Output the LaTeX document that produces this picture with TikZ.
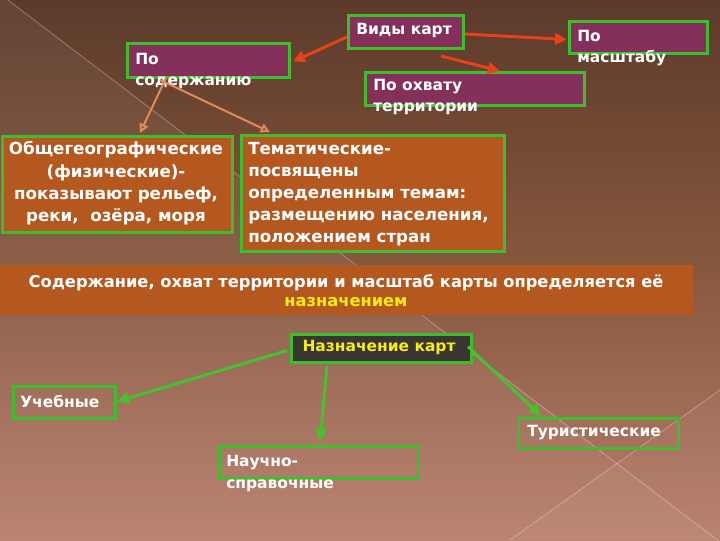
\documentclass[tikz,border=0pt]{standalone}
\usepackage{fontspec}
\setmainfont{DejaVu Sans}
\usetikzlibrary{arrows.meta,calc}
\definecolor{bgtop}{HTML}{5C3A2A}
\definecolor{bgmid}{HTML}{87583F}
\definecolor{bgbot}{HTML}{B87E6C}
\definecolor{mag}{HTML}{84305A}
\definecolor{gbord}{HTML}{3DBE2E}
\definecolor{orng}{HTML}{B5581F}
\definecolor{redarr}{HTML}{E8421B}
\definecolor{lorarr}{HTML}{E28A5A}
\definecolor{garr}{HTML}{45C22F}
\definecolor{dark}{HTML}{3A3432}
\definecolor{yel}{HTML}{F6EE10}
\tikzset{
  txt/.style={font=\bfseries\fontsize{11.6}{16.5}\selectfont, text=white},
  ortxt/.style={font=\bfseries\fontsize{12.5}{16.6}\selectfont, text=white},
  toptxt/.style={font=\bfseries\fontsize{11.6}{15.8}\selectfont, text=white},
  boxbase/.style={draw=gbord, line width=2.25pt, anchor=north west, inner sep=0pt},
  magbox/.style={boxbase, fill=mag},
  orbox/.style={boxbase, fill=orng},
  brbox/.style={boxbase, fill=none},
  lbl/.style={txt, anchor=north west, align=left, inner sep=0pt},
  toplbl/.style={toptxt, anchor=north west, align=left, inner sep=0pt},
  redline/.style={draw=redarr, line width=2.2pt, -{Triangle[length=9pt,width=8.5pt]}},
  orline/.style={draw=lorarr, line width=1.5pt, -{Triangle[length=7pt,width=7pt,open]}},
  grline/.style={draw=garr, line width=2.2pt, -{Triangle[length=9pt,width=8.5pt]}},
}
\begin{document}
\begin{tikzpicture}[x=0.75pt,y=-0.75pt]
\shade[top color=bgtop, bottom color=bgbot, middle color=bgmid] (0,0) rectangle (720,540);
\useasboundingbox (0,0) rectangle (720,540);
% decorative overlay and lines
\fill[white, opacity=0.05] (0,-6) -- (720,542) -- (0,542) -- cycle;
\fill[white, opacity=0.04] (720,390) -- (510,540) -- (720,540) -- cycle;
\draw[white, opacity=0.3, line width=0.6pt] (0,-6) -- (720,542);
\draw[white, opacity=0.3, line width=0.6pt] (720,390) -- (510,540);

% top group
\node[magbox, minimum width=86.25pt, minimum height=24.75pt] (vidy) at (347,14) {};
\node[toplbl] (vidyt) at (356,22.5) {Виды карт};
\node[magbox, minimum width=103.5pt, minimum height=24pt] (masht) at (568,20) {};
\node[toplbl] (mashtt) at (577,30) {По\\масштабу};
\node[magbox, minimum width=121.5pt, minimum height=25.5pt] (sod) at (126,42) {};
\node[toplbl] (sodt) at (135,52.5) {По\\содержанию};
\node[magbox, minimum width=164.25pt, minimum height=24.75pt] (ohv) at (364,71) {};
\node[toplbl] (ohvt) at (373,79) {По охвату\\территории};

\draw[redline] ($(vidy.west)+(0,5)$) -- ($(sod.east)+(2,1)$);
\draw[redline] ($(vidy.east)+(0,2)$) -- ($(masht.west)+(-1,2)$);
\draw[redline] ($(vidy.south east)+(-24,6)$) -- ($(ohv.north west)+(136,0)$);

% second level
\node[orbox, minimum width=172.5pt, minimum height=72pt] (obsh) at (1,135) {};
\node[ortxt, align=center, anchor=north, inner sep=0pt] (obsht) at (116,141.5) {Общегеографические\\(физические)-\\показывают рельеф,\\реки,\ \ озёра, моря};
\node[orbox, minimum width=197.25pt, minimum height=87pt] (tem) at (240,134) {};
\node[ortxt, anchor=north west, align=left, inner sep=0pt] (temt) at (248,142) {Тематические-\\посвящены\\определенным темам:\\размещению населения,\\положением стран};

\draw[orline] ($(sod.south west)+(40,-1)$) -- ($(obsh.north west)+(139,-2)$);
\draw[orline] ($(sod.south west)+(34,1)$) -- ($(tem.north west)+(30,-2)$);

% banner
\fill[orng] (0,265) rectangle (693,315);
\node[align=center, anchor=north, inner sep=0pt, text=white, font=\bfseries\fontsize{12.2}{14.25}\selectfont] (banner) at (346,274) {Содержание, охват территории и масштаб карты определяется её\\\textcolor{yel}{назначением}};

% bottom group
\node[boxbase, fill=dark, minimum width=135pt, minimum height=21pt] (naz) at (290,333) {};
\node[txt, text=yel, inner sep=0pt] (nazt) at (379,347) {Назначение карт};
\node[brbox, minimum width=76.5pt, minimum height=24pt] (ucheb) at (12,385) {};
\node[lbl] (uchebt) at (20,394.5) {Учебные};
\node[brbox, minimum width=149.25pt, minimum height=24pt] (nauch) at (218,445) {};
\node[lbl] (naucht) at (226,454.5) {Научно-\\справочные};
\node[brbox, minimum width=120pt, minimum height=22.5pt] (tur) at (517,417) {};
\node[lbl] (turt) at (527,425) {Туристические};

\draw[grline] ($(naz.west)+(-3,2)$) -- ($(ucheb.east)+(0,-1)$);
\draw[grline] ($(naz.south west)+(37,2)$) -- ($(nauch.north west)+(102,-4)$);
\draw[grline] ($(naz.east)+(-5,-2)$) -- ($(tur.north west)+(24,-1)$);
\end{tikzpicture}
\end{document}
